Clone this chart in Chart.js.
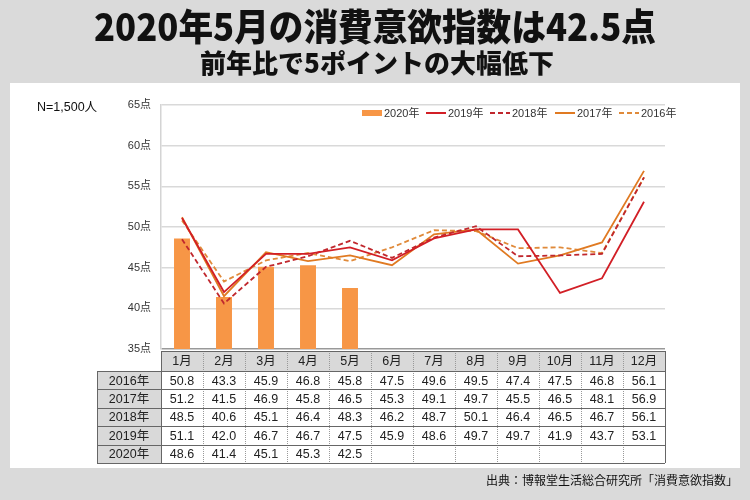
<!DOCTYPE html>
<html>
<head>
<meta charset="utf-8">
<script src="https://cdn.jsdelivr.net/npm/chart.js@4.4.1/dist/chart.umd.min.js"></script>
<style>
body { margin: 0; background: #dadada; }
#wrap { width: 750px; height: 500px; }
</style>
</head>
<body>
<div id="wrap"><canvas id="chart"></canvas></div>
<script>
const months = ['1月', '2月', '3月', '4月', '5月', '6月', '7月', '8月', '9月', '10月', '11月', '12月'];
const years = ['2016年', '2017年', '2018年', '2019年', '2020年'];
const v2016 = [50.8, 43.3, 45.9, 46.8, 45.8, 47.5, 49.6, 49.5, 47.4, 47.5, 46.8, 56.1];
const v2017 = [51.2, 41.5, 46.9, 45.8, 46.5, 45.3, 49.1, 49.7, 45.5, 46.5, 48.1, 56.9];
const v2018 = [48.5, 40.6, 45.1, 46.4, 48.3, 46.2, 48.7, 50.1, 46.4, 46.5, 46.7, 56.1];
const v2019 = [51.1, 42.0, 46.7, 46.7, 47.5, 45.9, 48.6, 49.7, 49.7, 41.9, 43.7, 53.1];
const v2020 = [48.6, 41.4, 45.1, 45.3, 42.5];
const yTicks = [35, 40, 45, 50, 55, 60, 65];

const title = '2020年5月の消費意欲指数は42.5点';
const subtitle = '前年比で5ポイントの大幅低下';
const sampleNote = 'N=1,500人';
const source = '出典：博報堂生活総合研究所「消費意欲指数」';

const FONT = "'Liberation Sans', 'Noto Sans CJK JP', sans-serif";
Chart.defaults.font.family = FONT;

// draws text squeezed/stretched to a given width
function fitText(ctx, text, cx, cy, w) {
    const m = ctx.measureText(text).width;
    ctx.save();
    ctx.translate(cx, cy);
    ctx.scale(w / m, 1);
    ctx.fillText(text, 0, 0);
    ctx.restore();
}

const decor = {
    id: 'decor',
    beforeDraw(chart) {
        const ctx = chart.ctx;
        ctx.save();
        ctx.fillStyle = '#dadada';
        ctx.fillRect(0, 0, chart.width, chart.height);
        ctx.fillStyle = '#ffffff';
        ctx.fillRect(10, 83, 730, 385);
        ctx.restore();
    },
    afterDraw(chart) {
        const ctx = chart.ctx;
        const xs = chart.scales.x;
        ctx.save();

        // titles
        ctx.fillStyle = '#111';
        ctx.textAlign = 'center';
        ctx.textBaseline = 'middle';
        ctx.font = "900 37px 'Noto Sans CJK JP'";
        fitText(ctx, title, 375, 27, 562);
        ctx.font = "900 26px 'Noto Sans CJK JP'";
        fitText(ctx, subtitle, 377, 63, 354);

        // N note
        ctx.font = '12.5px ' + FONT;
        ctx.textAlign = 'left';
        ctx.fillStyle = '#111';
        ctx.fillText(sampleNote, 37, 108);

        // source
        ctx.textAlign = 'right';
        ctx.font = '12px ' + FONT;
        ctx.fillText(source, 738, 482);

        // legend
        const legend = [
            {ds: 0, x: 362},
            {ds: 1, x: 426},
            {ds: 2, x: 490},
            {ds: 3, x: 555},
            {ds: 4, x: 619}
        ];
        const ly = 113;
        ctx.font = '11px ' + FONT;
        ctx.textAlign = 'left';
        legend.forEach(item => {
            const d = chart.data.datasets[item.ds];
            if (d.type === 'bar') {
                ctx.fillStyle = d.backgroundColor;
                ctx.fillRect(item.x, ly - 3, 20, 6);
            } else {
                ctx.strokeStyle = d.borderColor;
                ctx.lineWidth = 2;
                ctx.setLineDash(d.borderDash || []);
                ctx.beginPath();
                ctx.moveTo(item.x, ly);
                ctx.lineTo(item.x + 20, ly);
                ctx.stroke();
                ctx.setLineDash([]);
            }
            ctx.fillStyle = '#333';
            ctx.fillText(d.label, item.x + 22, ly + 1);
        });

        // data table
        const cw = xs.getPixelForValue(1) - xs.getPixelForValue(0);
        const x0 = xs.getPixelForValue(0) - cw / 2;
        const x1 = xs.getPixelForValue(months.length - 1) + cw / 2;
        const labL = 97;
        const tTop = 351, hH = 20, rH = 18.4;
        const rows = [v2016, v2017, v2018, v2019, v2020];
        const tBot = tTop + hH + rH * rows.length;

        ctx.fillStyle = '#d9d9d9';
        ctx.fillRect(x0, tTop, x1 - x0, hH);
        ctx.fillRect(labL, tTop + hH, x0 - labL, rH * rows.length);

        ctx.fillStyle = '#222';
        ctx.textAlign = 'center';
        ctx.font = '12.5px ' + FONT;
        months.forEach((m, i) => {
            ctx.fillText(m, xs.getPixelForValue(i), tTop + hH / 2 + 1);
        });
        rows.forEach((r, j) => {
            const cy = tTop + hH + rH * j + rH / 2 + 1;
            ctx.fillText(years[j], (labL + x0) / 2, cy);
            r.forEach((v, i) => {
                ctx.fillText(v.toFixed(1), xs.getPixelForValue(i), cy);
            });
        });

        // dotted inner column lines
        ctx.strokeStyle = '#999';
        ctx.lineWidth = 1;
        ctx.setLineDash([1, 1]);
        for (let i = 1; i < months.length; i++) {
            const x = Math.round(x0 + cw * i) + 0.5;
            ctx.beginPath();
            ctx.moveTo(x, tTop);
            ctx.lineTo(x, tBot);
            ctx.stroke();
        }
        ctx.setLineDash([]);

        // solid lines
        ctx.strokeStyle = '#666';
        ctx.beginPath();
        ctx.moveTo(x0, tTop + 0.5);
        ctx.lineTo(x1, tTop + 0.5);
        for (let j = 0; j <= rows.length; j++) {
            const y = Math.round(tTop + hH + rH * j) + 0.5;
            ctx.moveTo(labL, y);
            ctx.lineTo(x1, y);
        }
        ctx.moveTo(labL + 0.5, tTop + hH);
        ctx.lineTo(labL + 0.5, tBot);
        ctx.moveTo(Math.round(x0) + 0.5, tTop);
        ctx.lineTo(Math.round(x0) + 0.5, tBot);
        ctx.moveTo(Math.round(x1) + 0.5, tTop);
        ctx.lineTo(Math.round(x1) + 0.5, tBot);
        ctx.stroke();

        ctx.restore();
    }
};

new Chart(document.getElementById('chart'), {
    data: {
        labels: months,
        datasets: [{
            type: 'bar',
            label: '2020年',
            data: v2020,
            backgroundColor: '#f79646',
            barPercentage: 0.38,
            categoryPercentage: 1,
            order: 10
        }, {
            type: 'line',
            label: '2019年',
            data: v2019,
            borderColor: '#d21f26',
            borderWidth: 1.8,
            pointRadius: 0,
            order: 1
        }, {
            type: 'line',
            label: '2018年',
            data: v2018,
            borderColor: '#c0272d',
            borderWidth: 1.8,
            borderDash: [5, 3],
            pointRadius: 0,
            order: 2
        }, {
            type: 'line',
            label: '2017年',
            data: v2017,
            borderColor: '#e07a22',
            borderWidth: 1.8,
            pointRadius: 0,
            order: 3
        }, {
            type: 'line',
            label: '2016年',
            data: v2016,
            borderColor: '#e08a3a',
            borderWidth: 1.8,
            borderDash: [5, 3],
            pointRadius: 0,
            order: 4
        }]
    },
    options: {
        responsive: true,
        maintainAspectRatio: false,
        animation: false,
        layout: {
            padding: {left: 100, top: 105, right: 85, bottom: 151}
        },
        plugins: {
            legend: {display: false},
            tooltip: {enabled: false}
        },
        scales: {
            x: {
                display: false,
                offset: true
            },
            y: {
                min: yTicks[0],
                max: yTicks[yTicks.length - 1],
                afterFit: s => { s.width = 61; },
                afterBuildTicks: s => { s.ticks = yTicks.map(v => ({value: v})); },
                ticks: {
                    callback: v => v + '点',
                    color: '#333',
                    font: {size: 11},
                    padding: 10
                },
                grid: {
                    drawTicks: false,
                    color: c => c.tick && c.tick.value === yTicks[0] ? '#999' : '#d9d9d9',
                    lineWidth: 1.5
                },
                border: {color: '#d4d4d4', width: 1.5}
            }
        }
    },
    plugins: [decor]
});
</script>
</body>
</html>
